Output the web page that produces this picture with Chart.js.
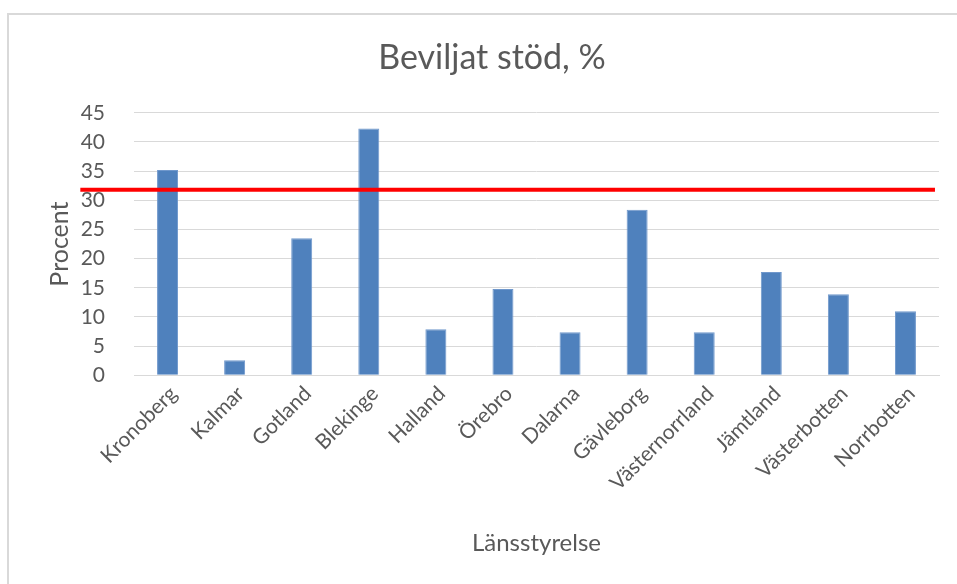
<!DOCTYPE html>
<html>
<head>
<meta charset="utf-8">
<script src="https://cdn.jsdelivr.net/npm/chart.js@4.4.1/dist/chart.umd.min.js"></script>
<style>
  html, body { margin: 0; padding: 0; background: #ffffff; overflow: hidden; }
  #frame { position: absolute; left: 7px; top: 13px; width: 1200px; height: 1000px; border: 2px solid #d9d9d9; box-sizing: border-box; }
  #wrap { position: absolute; left: 0; top: 0; width: 957px; height: 584px; }
</style>
</head>
<body>
<div id="frame"></div>
<div id="wrap"><canvas id="c" width="957" height="584"></canvas></div>
<script>
// ---- data ----
const chartTitle = 'Beviljat stöd, %';
const xAxisTitle = 'Länsstyrelse';
const yAxisTitle = 'Procent';
const categories = ['Kronoberg', 'Kalmar', 'Gotland', 'Blekinge', 'Halland', 'Örebro',
                    'Dalarna', 'Gävleborg', 'Västernorrland', 'Jämtland', 'Västerbotten', 'Norrbotten'];
const values = [35.2, 2.6, 23.5, 42.3, 7.9, 14.8, 7.4, 28.4, 7.4, 17.7, 13.9, 11.0];
const thresholdValue = 31.8;
const yTicks = [0, 5, 10, 15, 20, 25, 30, 35, 40, 45];
// extent of the red reference line, in category units (0 = left edge of first category)
const thresholdStart = -0.8;
const thresholdEnd = 11.94;

const FONT = 'Lato, "Open Sans", sans-serif';
const TXT = '#595959';

new Chart(document.getElementById('c'), {
  type: 'bar',
  data: {
    labels: categories,
    datasets: [
      {
        type: 'line',
        xAxisID: 'x2',
        data: [{ x: thresholdStart, y: thresholdValue }, { x: thresholdEnd, y: thresholdValue }],
        borderColor: '#ff0000',
        borderWidth: 4,
        pointRadius: 0,
        fill: false,
        clip: false,
        order: 0
      },
      {
        type: 'bar',
        xAxisID: 'x',
        data: values,
        backgroundColor: '#4f81bd',
        borderColor: '#7098cc',
        borderWidth: 1,
        grouped: false,
        barPercentage: 1,
        categoryPercentage: 0.313,
        order: 1
      }
    ]
  },
  options: {
    responsive: false,
    animation: false,
    layout: { padding: { left: 45, right: 18, top: 0, bottom: 0 } },
    plugins: {
      legend: { display: false },
      tooltip: { enabled: false },
      title: {
        display: true,
        text: chartTitle,
        color: TXT,
        font: { family: FONT, size: 34, weight: 'normal' },
        padding: { top: 38, bottom: 34 }
      }
    },
    scales: {
      x: {
        type: 'category',
        grid: { display: false, drawTicks: false },
        border: { display: true, color: '#d9d9d9', width: 1 },
        ticks: {
          color: TXT,
          font: { family: FONT, size: 21 },
          maxRotation: 45,
          minRotation: 45,
          padding: 6,
          labelOffset: 6,
          autoSkip: false
        },
        title: {
          display: true,
          text: xAxisTitle,
          color: TXT,
          font: { family: FONT, size: 24 },
          padding: { top: 4, bottom: 26 }
        },
        afterFit: (s) => { s.height = 584 - 375.3; }
      },
      x2: {
        type: 'linear',
        axis: 'x',
        position: 'bottom',
        display: false,
        offset: false,
        grid: { offset: false },
        min: 0,
        max: categories.length
      },
      y: {
        min: 0,
        max: 45,
        afterBuildTicks: (s) => { s.ticks = yTicks.map(v => ({ value: v })); },
        grid: { color: '#d9d9d9', lineWidth: 1, drawTicks: false },
        border: { display: false },
        ticks: {
          color: TXT,
          font: { family: FONT, size: 21 },
          padding: 29
        },
        title: {
          display: true,
          text: yAxisTitle,
          color: TXT,
          font: { family: FONT, size: 25 },
          padding: { top: 0 }
        },
        afterFit: (s) => { s.width = 134 - 45; }
      }
    }
  }
});
</script>
</body>
</html>
